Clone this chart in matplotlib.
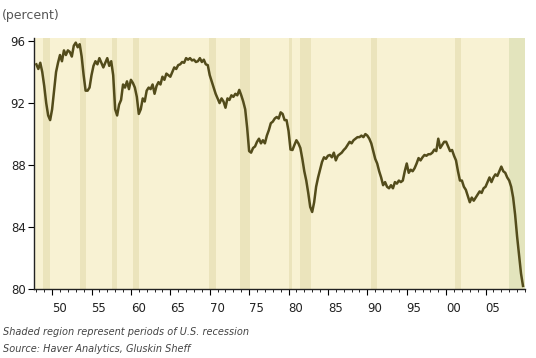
import matplotlib.pyplot as plt
import numpy as np

# quarterly readings, one row per year (Q1..Q4), 1948-2009
years = np.arange(1948, 2010)
quarterly = [
    [94.5, 94.2, 94.6, 94.0],   # 1948
    [93.1, 92.0, 91.2, 90.9],
    [91.6, 92.8, 94.0, 94.6],   # 1950
    [95.1, 94.7, 95.4, 95.1],
    [95.4, 95.3, 95.0, 95.7],
    [95.9, 95.6, 95.8, 95.0],
    [93.8, 92.8, 92.8, 93.0],
    [93.8, 94.4, 94.7, 94.5],   # 1955
    [94.9, 94.6, 94.3, 94.6],
    [94.9, 94.4, 94.7, 93.8],
    [91.6, 91.2, 91.9, 92.2],
    [93.2, 93.0, 93.4, 92.9],
    [93.5, 93.3, 93.0, 92.4],   # 1960
    [91.3, 91.6, 92.3, 92.1],
    [92.8, 93.0, 92.9, 93.2],
    [92.6, 93.1, 93.35, 93.2],
    [93.7, 93.5, 93.9, 93.8],
    [93.7, 94.0, 94.3, 94.2],   # 1965
    [94.45, 94.5, 94.65, 94.6],
    [94.9, 94.8, 94.9, 94.75],
    [94.8, 94.65, 94.7, 94.9],
    [94.65, 94.8, 94.5, 94.45],
    [93.8, 93.4, 93.0, 92.6],   # 1970
    [92.3, 92.0, 92.3, 92.1],
    [91.7, 92.3, 92.2, 92.5],
    [92.4, 92.6, 92.5, 92.85],
    [92.5, 92.1, 91.6, 90.4],
    [88.9, 88.8, 89.1, 89.2],   # 1975
    [89.5, 89.7, 89.4, 89.6],
    [89.4, 89.9, 90.25, 90.7],
    [90.8, 91.0, 91.1, 91.0],
    [91.4, 91.3, 90.9, 90.9],
    [90.2, 89.0, 88.97, 89.3],  # 1980
    [89.6, 89.4, 89.1, 88.4],
    [87.6, 87.0, 86.2, 85.3],
    [84.97, 85.6, 86.6, 87.2],
    [87.7, 88.2, 88.5, 88.4],
    [88.6, 88.65, 88.5, 88.8],  # 1985
    [88.3, 88.6, 88.7, 88.8],
    [88.97, 89.1, 89.3, 89.5],
    [89.4, 89.6, 89.7, 89.8],
    [89.8, 89.9, 89.8, 90.0],
    [89.9, 89.7, 89.4, 88.9],   # 1990
    [88.4, 88.1, 87.6, 87.2],
    [86.7, 86.9, 86.6, 86.5],
    [86.7, 86.5, 86.9, 86.8],
    [87.0, 86.9, 87.0, 87.6],
    [88.1, 87.5, 87.7, 87.6],   # 1995
    [87.8, 88.1, 88.45, 88.3],
    [88.5, 88.65, 88.6, 88.7],
    [88.7, 88.8, 89.0, 88.9],
    [89.7, 89.1, 89.3, 89.5],
    [89.5, 89.2, 88.9, 88.97],  # 2000
    [88.6, 88.3, 87.6, 87.0],
    [87.0, 86.6, 86.4, 86.0],
    [85.6, 85.9, 85.7, 85.9],
    [86.1, 86.3, 86.2, 86.5],
    [86.6, 86.9, 87.2, 86.9],   # 2005
    [87.2, 87.4, 87.3, 87.6],
    [87.9, 87.6, 87.5, 87.2],
    [87.0, 86.6, 85.9, 84.8],
    [83.4, 82.2, 81.0, 80.2],
]

rec_start = [1948.83, 1953.5, 1957.58, 1960.25, 1969.92, 1973.83,
             1980.0, 1981.5, 1990.5, 2001.17, 2007.92]
rec_end = [1949.75, 1954.33, 1958.25, 1961.08, 1970.83, 1975.17,
           1980.5, 1982.83, 1991.17, 2001.83, 2010.0]

xticks = [1950, 1955, 1960, 1965, 1970, 1975, 1980, 1985, 1990, 1995, 2000, 2005]
xlabels = ['50', '55', '60', '65', '70', '75', '80', '85', '90', '95', '00', '05']
yticks = [80, 84, 88, 92, 96]

t = (years[:, None] + np.array([0.0, 0.25, 0.5, 0.75])[None, :]).ravel()
vals = np.array(quarterly).ravel()

fig = plt.figure(figsize=(5.36, 3.58), dpi=100)
ax = fig.add_axes([0.0634, 0.1927, 0.916, 0.7012])
ax.set_facecolor('#f8f2d3')

for i, (s, e) in enumerate(zip(rec_start, rec_end)):
    col = '#e3e4bd' if i == len(rec_start) - 1 else '#ebe4bc'
    ax.axvspan(s, e, color=col, lw=0, zorder=1)

ax.plot(t, vals, color='#534c1b', lw=1.8, zorder=3)

ax.set_xlim(1947.7, 2010)
ax.set_ylim(80, 96.2)

for side in ['top', 'right']:
    ax.spines[side].set_visible(False)
for side in ['left', 'bottom']:
    ax.spines[side].set_color('#222222')
    ax.spines[side].set_linewidth(1.0)

ax.set_yticks(yticks)
ax.set_yticklabels([str(v) for v in yticks], fontsize=8.5, color='#222222')
ax.set_xticks(xticks)
ax.set_xticklabels(xlabels, fontsize=8.5, color='#222222', ha='left')
ax.set_xticks(np.arange(1948, 2011), minor=True)
ax.tick_params(axis='y', direction='out', length=4, width=0.8, pad=2)
ax.tick_params(axis='x', which='major', direction='out', length=4, width=0.8, pad=5)
ax.tick_params(axis='x', which='minor', direction='out', length=2, width=0.6)

fig.text(0.004, 0.975, '(percent)', fontsize=9, color='#555555', va='top')
fig.text(0.006, 0.073, 'Shaded region represent periods of U.S. recession',
         fontsize=7, style='italic', color='#444444', va='center')
fig.text(0.006, 0.025, 'Source: Haver Analytics, Gluskin Sheff',
         fontsize=7, style='italic', color='#444444', va='center')

fig.savefig('out.png', dpi=100)
